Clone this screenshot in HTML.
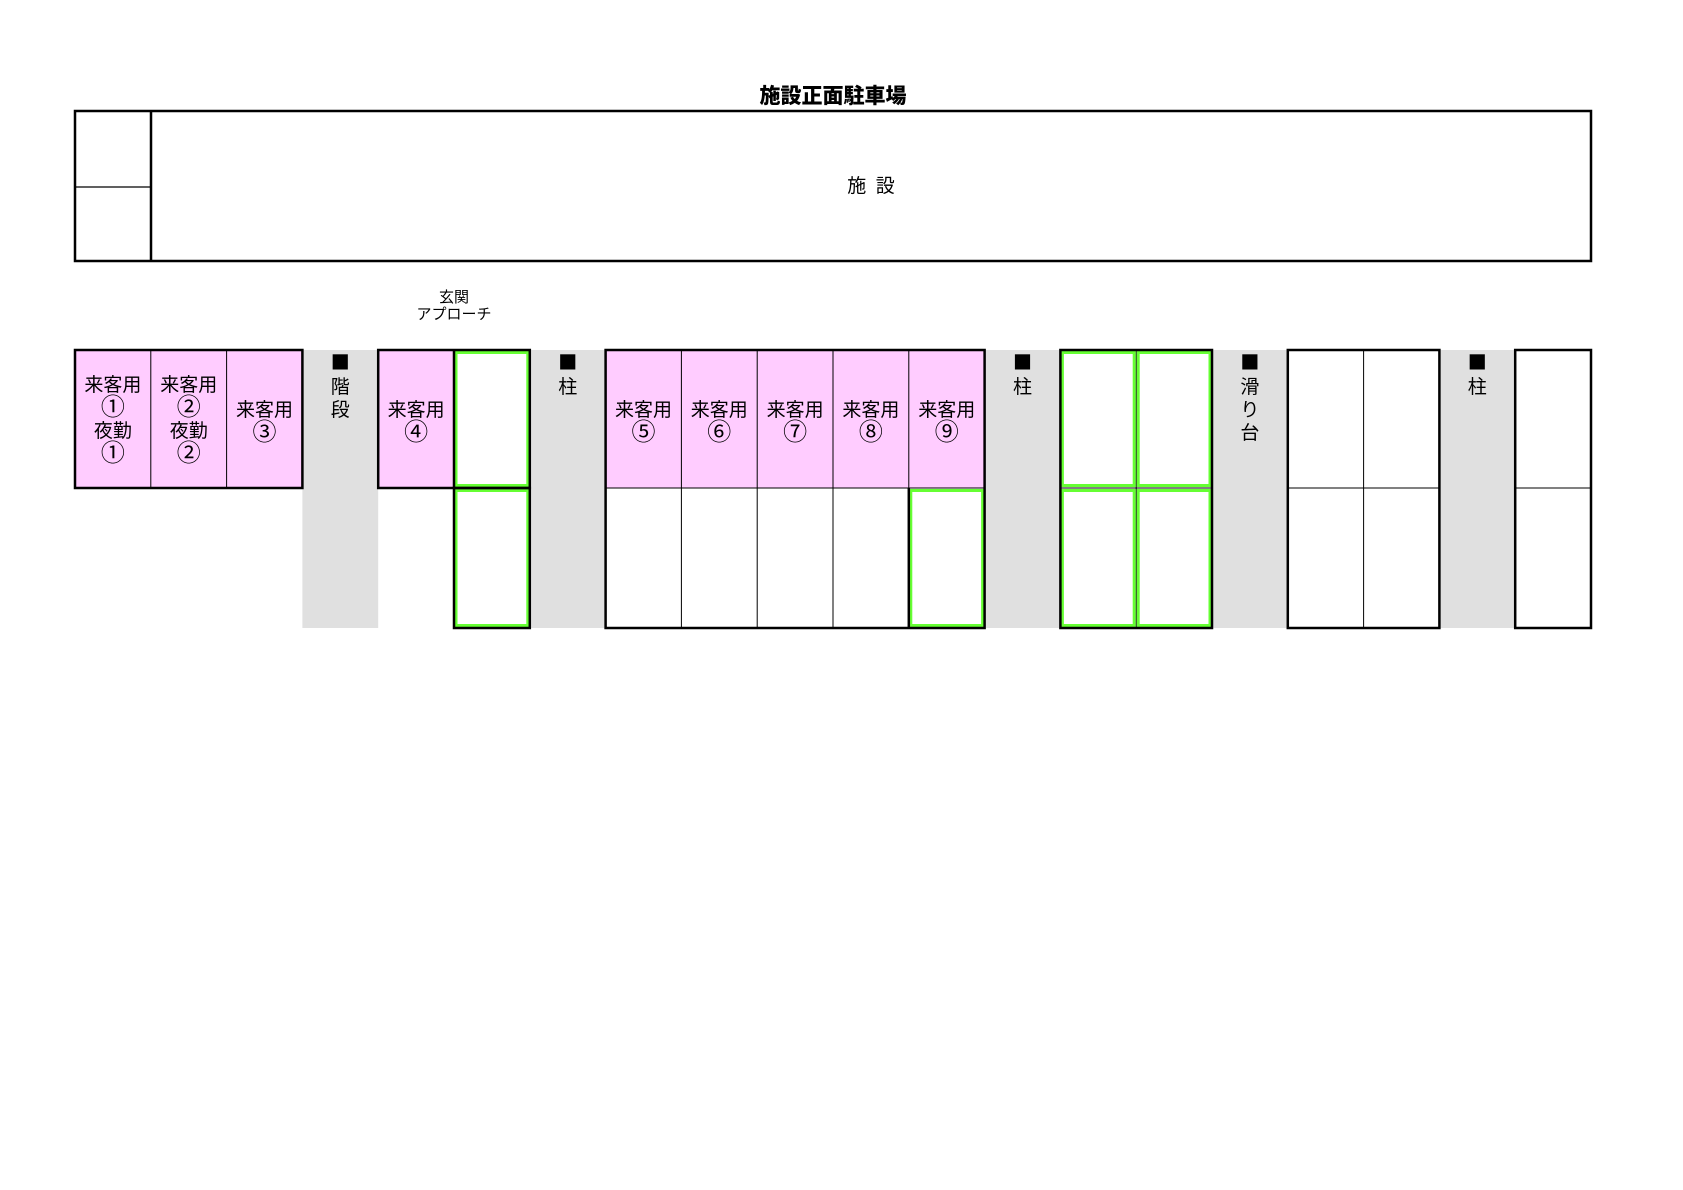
<!DOCTYPE html>
<html><head><meta charset="utf-8"><style>
html,body{margin:0;padding:0;background:#fff;}
svg{display:block;}
text{font-family:"Noto Sans CJK JP",sans-serif;fill:#000;}
.c{font-size:24px;}
</style></head><body>
<svg width="1683" height="1190" viewBox="0 0 1683 1190" xmlns="http://www.w3.org/2000/svg">
<text x="833" y="103" font-size="21" font-weight="900" text-anchor="middle">施設正面駐車場</text>
<rect x="75" y="111" width="1516" height="150" fill="#fff" stroke="#000" stroke-width="2.5"/>
<line x1="151" y1="111" x2="151" y2="261" stroke="#000" stroke-width="2.5"/>
<line x1="75" y1="187" x2="151" y2="187" stroke="#000" stroke-width="1.2"/>
<text x="871" y="192" font-size="19" text-anchor="middle">施&#8194;設</text>
<text x="454" y="302" font-size="15" text-anchor="middle">玄関</text>
<text x="454" y="319" font-size="15" text-anchor="middle">アプローチ</text>

<rect x="302.4" y="350" width="75.8" height="278" fill="#e0e0e0"/>
<rect x="529.8" y="350" width="75.8" height="278" fill="#e0e0e0"/>
<rect x="984.6" y="350" width="75.8" height="278" fill="#e0e0e0"/>
<rect x="1212" y="350" width="75.8" height="278" fill="#e0e0e0"/>
<rect x="1439.4" y="350" width="75.8" height="278" fill="#e0e0e0"/>

<rect x="75" y="350" width="227.4" height="138" fill="#ffccff"/>
<rect x="378.2" y="350" width="75.8" height="138" fill="#ffccff"/>
<rect x="605.6" y="350" width="379" height="138" fill="#ffccff"/>

<g stroke="#000" stroke-width="1">
<line x1="150.8" y1="350" x2="150.8" y2="488"/>
<line x1="226.6" y1="350" x2="226.6" y2="488"/>
<line x1="681.4" y1="350" x2="681.4" y2="628"/>
<line x1="757.2" y1="350" x2="757.2" y2="628"/>
<line x1="833" y1="350" x2="833" y2="628"/>
<line x1="908.8" y1="350" x2="908.8" y2="628"/>
<line x1="605.6" y1="488" x2="984.6" y2="488"/>
<line x1="1287.8" y1="488" x2="1439.4" y2="488"/>
<line x1="1363.6" y1="350" x2="1363.6" y2="628"/>
<line x1="1515.2" y1="488" x2="1591" y2="488"/>
<line x1="1060.4" y1="350" x2="1060.4" y2="628"/>
<line x1="1136.2" y1="350" x2="1136.2" y2="628"/>
<line x1="1060.4" y1="488" x2="1212" y2="488"/>
</g>

<g fill="none" stroke="#66ff33" stroke-width="3">
<rect x="456" y="352.5" width="71.8" height="133"/>
<rect x="456" y="490.5" width="71.8" height="135"/>
<rect x="910.8" y="490.5" width="71.8" height="135"/>
<rect x="1062.4" y="352.5" width="71.8" height="133"/>
<rect x="1138.2" y="352.5" width="71.8" height="133"/>
<rect x="1062.4" y="490.5" width="71.8" height="135"/>
<rect x="1138.2" y="490.5" width="71.8" height="135"/>
</g>

<g fill="none" stroke="#000" stroke-width="2.5">
<rect x="75" y="350" width="227.4" height="138"/>
<rect x="378.2" y="350" width="151.6" height="138"/>
<line x1="454" y1="350" x2="454" y2="488"/>
<rect x="454" y="488" width="75.8" height="140"/>
<rect x="605.6" y="350" width="379" height="278"/>
<line x1="908.8" y1="488" x2="908.8" y2="628"/>
<rect x="1060.4" y="350" width="151.6" height="278"/>
<rect x="1287.8" y="350" width="151.6" height="278"/>
<rect x="1515.2" y="350" width="75.8" height="278"/>
</g>

<g font-size="19" text-anchor="middle">
<text x="112.9" y="391">来客用</text>
<text x="112.9" y="415" class="c">①</text>
<text x="112.9" y="437">夜勤</text>
<text x="112.9" y="461" class="c">①</text>
<text x="188.7" y="391">来客用</text>
<text x="188.7" y="415" class="c">②</text>
<text x="188.7" y="437">夜勤</text>
<text x="188.7" y="461" class="c">②</text>
<text x="264.5" y="416">来客用</text>
<text x="264.5" y="440" class="c">③</text>
<text x="416.1" y="416">来客用</text>
<text x="416.1" y="440" class="c">④</text>
<text x="643.5" y="416">来客用</text>
<text x="643.5" y="440" class="c">⑤</text>
<text x="719.3" y="416">来客用</text>
<text x="719.3" y="440" class="c">⑥</text>
<text x="795.1" y="416">来客用</text>
<text x="795.1" y="440" class="c">⑦</text>
<text x="870.9" y="416">来客用</text>
<text x="870.9" y="440" class="c">⑧</text>
<text x="946.7" y="416">来客用</text>
<text x="946.7" y="440" class="c">⑨</text>
<text x="340.3" y="369">■</text>
<text x="340.3" y="393">階</text>
<text x="340.3" y="416">段</text>
<text x="567.7" y="369">■</text>
<text x="567.7" y="393">柱</text>
<text x="1022.5" y="369">■</text>
<text x="1022.5" y="393">柱</text>
<text x="1249.9" y="369">■</text>
<text x="1249.9" y="393">滑</text>
<text x="1249.9" y="416">り</text>
<text x="1249.9" y="439">台</text>
<text x="1477.3" y="369">■</text>
<text x="1477.3" y="393">柱</text>
</g>
</svg>
</body></html>
